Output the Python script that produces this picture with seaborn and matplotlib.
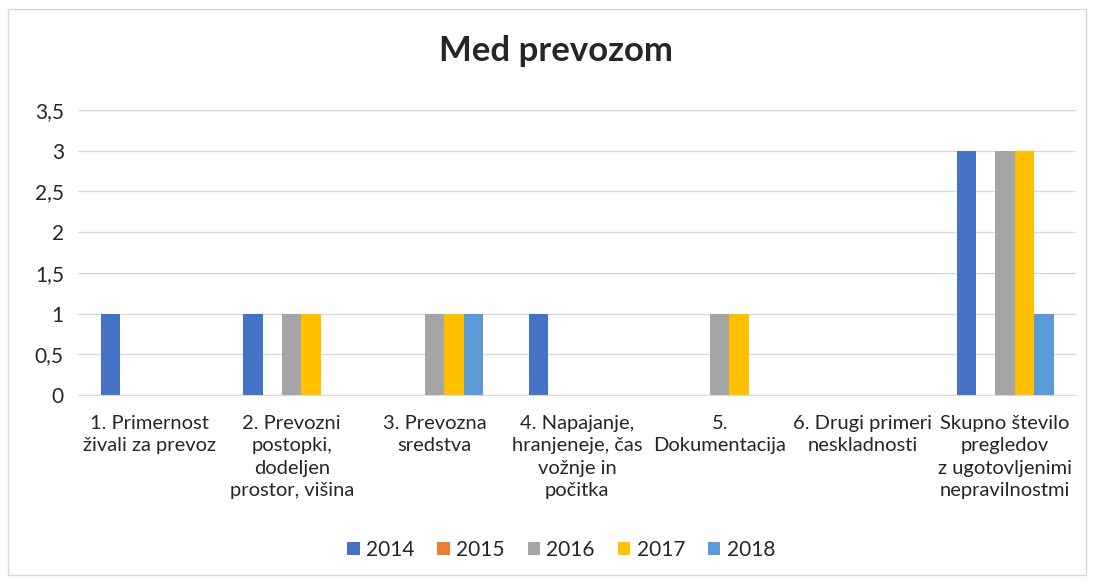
import pandas as pd
import matplotlib.pyplot as plt
import seaborn as sns
from matplotlib.patches import Rectangle

categories = ['1. Primernost\nživali za prevoz',
              '2. Prevozni\npostopki,\ndodeljen\nprostor, višina',
              '3. Prevozna\nsredstva',
              '4. Napajanje,\nhranjeneje, čas\nvožnje in\npočitka',
              '5.\nDokumentacija',
              '6. Drugi primeri\nneskladnosti',
              'Skupno število\npregledov\nz ugotovljenimi\nnepravilnostmi']
years = ['2014', '2015', '2016', '2017', '2018']
v2014 = [1, 1, 0, 1, 0, 0, 3]
v2015 = [0, 0, 0, 0, 0, 0, 0]
v2016 = [0, 1, 1, 0, 1, 0, 3]
v2017 = [0, 1, 1, 0, 1, 0, 3]
v2018 = [0, 0, 1, 0, 0, 0, 1]
colors = ['#4472C4', '#ED7D31', '#A5A5A5', '#FFC000', '#5B9BD5']

rows = []
for y, vals in zip(years, [v2014, v2015, v2016, v2017, v2018]):
    for c, v in zip(categories, vals):
        rows.append({'cat': c, 'year': y, 'val': v})
df = pd.DataFrame(rows)

sns.set_style('white')
plt.rcParams['font.family'] = ['Lato', 'DejaVu Sans']

fig = plt.figure(figsize=(10.94, 5.82), dpi=100)
ax = fig.add_axes([0.071, 0.321, 0.913, 0.49])
sns.barplot(data=df, x='cat', y='val', hue='year', palette=colors,
            width=0.68, gap=0, ax=ax, saturation=1, linewidth=0)

ax.set_ylim(0, 3.5)
ticks = [0, 0.5, 1, 1.5, 2, 2.5, 3, 3.5]
ax.set_yticks(ticks)
ax.set_yticklabels([str(t).replace('.', ',').replace(',0', '') for t in ticks], fontsize=15)
ax.yaxis.grid(True, color='#D9D9D9', linewidth=1)
ax.set_axisbelow(True)
for s in ['top', 'right', 'left']:
    ax.spines[s].set_visible(False)
ax.spines['bottom'].set_color('#D9D9D9')
ax.tick_params(axis='y', length=0, pad=10)
ax.tick_params(axis='x', length=0, pad=14)
ax.set_xticks(range(len(categories)))
ax.set_xticklabels(categories, fontsize=14.5, linespacing=1.4, va='top')
ax.set_xlim(-0.5, len(categories) - 0.5)
ax.set_xlabel('')
ax.set_ylabel('')

fig.suptitle('Med prevozom', fontsize=25, fontweight='bold', x=0.508, y=0.94)

h, l = ax.get_legend_handles_labels()
ax.legend(h, l, loc='center', bbox_to_anchor=(0.513, 0.055), bbox_transform=fig.transFigure,
          ncol=5, frameon=False, fontsize=15, handlelength=0.6, handleheight=0.6,
          handletextpad=0.3, columnspacing=1.1)

fig.patches.append(Rectangle((0.007, 0.012), 0.986, 0.972, transform=fig.transFigure,
                             fill=False, edgecolor='#D9D9D9', linewidth=1))

fig.savefig('out.png', dpi=100)
